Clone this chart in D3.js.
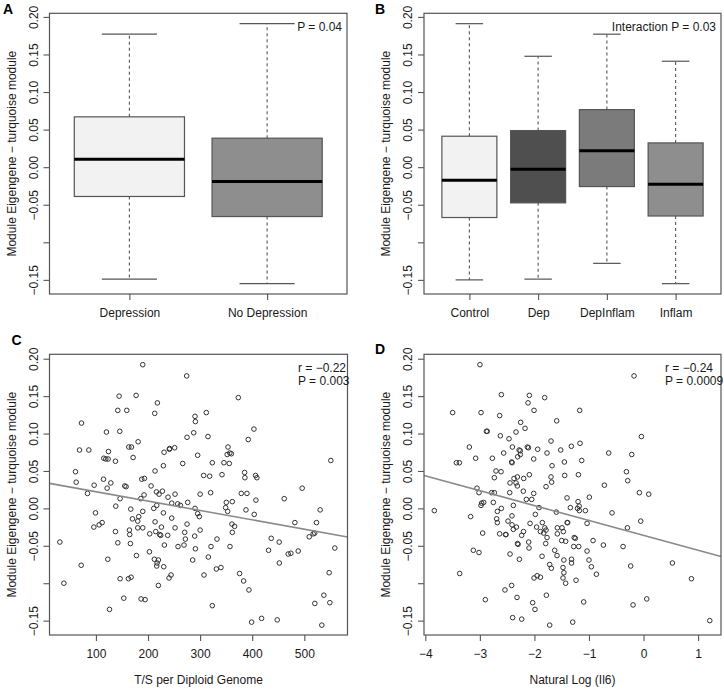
<!DOCTYPE html>
<html><head><meta charset="utf-8">
<script src="https://cdn.jsdelivr.net/npm/d3@7"></script>
<style>
body{margin:0;background:#fff}
svg{display:block}
text{font-family:"Liberation Sans",Arial,Helvetica,sans-serif}
</style>
</head><body>
<svg id="chart" width="724" height="691"></svg>
<script>
// ---------------- DATA ----------------
const yTickValues = [0.20, 0.15, 0.10, 0.05, 0.00, -0.05, -0.10, -0.15];
const yTickLabels = ["0.20", "0.15", "0.10", "0.05", "0.00", "\u22120.05", "", "\u22120.15"];
const yAxisTitle = "Module Eigengene \u2212 turquoise module";

// Panel A boxplot
const groupsA = ["Depression", "No Depression"];
const lowA  = [-0.149, -0.155];
const q1A   = [-0.039, -0.0657];
const medA  = [0.0106, -0.019];
const q3A   = [0.067, 0.0386];
const highA = [0.177, 0.191];
const noteA = ["P = 0.04"];

// Panel B boxplot
const groupsB = ["Control", "Dep", "DepInflam", "Inflam"];
const lowB  = [-0.150, -0.149, -0.128, -0.155];
const q1B   = [-0.067, -0.0475, -0.0258, -0.065];
const medB  = [-0.0173, -0.0027, 0.0217, -0.0226];
const q3B   = [0.0412, 0.0487, 0.0766, 0.0323];
const highB = [0.191, 0.1476, 0.177, 0.141];
const noteB = ["Interaction P = 0.03"];

// Panel C scatter: [T/S per diploid genome, eigengene]
const pointsC = [
[144.5,0.150],[177.1,0.151],[218,0.141],[142,0.131],[159.2,0.131],[212.9,0.127],[290.2,0.123],[290.9,0.116],
[72.3,0.114],[120.2,0.102],[145.8,0.103],[287.7,0.101],[274.9,0.095],[181,0.089],[68.5,0.078],[86.4,0.078],
[124.1,0.076],[163.1,0.082],[168.2,0.082],[230.8,0.075],[241,0.079],[241.5,0.080],[251.2,0.081],[115.1,0.067],
[119,0.066],[123.4,0.066],[137.5,0.063],[171.4,0.068],[295.3,0.071],[266.6,0.060],[60.8,0.049],[213.5,0.050],
[229.5,0.057],[62.1,0.035],[96.6,0.031],[114.5,0.039],[128.6,0.034],[121.5,0.027],[155.4,0.030],[157.9,0.029],
[188,0.039],[193.1,0.040],[205.9,0.030],[146.4,0.013],[83.8,0.020],[216.1,0.022],[221.2,0.019],[227.6,0.023],
[238.4,0.015],[251.9,0.019],[186.1,0.013],[192.4,0.018],[138.1,0.003],[166.9,-0.001],[189.9,-0.004],[182.2,-0.011],
[170.1,-0.014],[180.3,-0.017],[216.7,0.004],[229.5,-0.006],[245.5,0.007],[257,0.006],[262.1,0.004],[276.2,0.008],
[290.2,0.000],[295.3,-0.007],[298.5,-0.011],[211,0.000],[245.5,-0.013],[251.9,-0.026],[99.2,-0.006],[96,-0.025],
[106.2,-0.022],[111.9,-0.019],[137.5,-0.031],[164.3,-0.029],[164.9,-0.035],[180.3,-0.026],[189.9,-0.026],[203.3,-0.034],
[213.5,-0.018],[214.8,-0.031],[222.5,-0.035],[224.4,-0.036],[225.7,-0.025],[237.8,-0.036],[274.9,-0.021],[270.4,-0.032],
[271.7,-0.041],[289.6,-0.037],[231.4,-0.049],[257.6,-0.051],[269.1,-0.049],[290.9,-0.054],[30.8,-0.045],[142,-0.046],
[166.2,-0.047],[202.7,-0.058],[177.8,-0.063],[212.2,-0.068],[219.9,-0.069],[217.4,-0.073],[216.7,-0.077],[230.2,-0.078],
[285.7,-0.069],[71.7,-0.076],[122.8,-0.068],[146.4,-0.094],[162.4,-0.094],[167.5,-0.092],[240.4,-0.093],[244.2,-0.089],
[38.5,-0.100],[219.9,-0.103],[153.5,-0.120],[186.7,-0.121],[194.4,-0.122],
[373.3,0.148],[311.9,0.128],[315.1,0.096],[403.3,0.106],[392.4,0.092],[353.5,0.082],[352,0.072],[357,0.074],
[360,0.073],[323.4,0.061],[345.8,0.061],[356,0.060],[306.8,0.044],[318.3,0.043],[342,0.045],[385.4,0.048],
[386,0.041],[406.5,0.044],[409,0.041],[550.9,0.064],[320.2,0.021],[379,0.020],[389.9,0.020],[407.1,0.011],
[495.9,0.027],[461.4,0.013],[350.3,0.008],[361.8,0.009],[349,0.001],[352.8,-0.004],[388,-0.002],[403.9,-0.008],
[530.4,-0.002],[361.1,-0.021],[366.2,-0.024],[361.8,-0.032],[481.9,-0.019],[523.4,-0.019],[517,-0.034],[520,-0.033],
[509.4,-0.038],[436.5,-0.040],[451.8,-0.045],[332.4,-0.041],[320.9,-0.051],[357.3,-0.051],[315.8,-0.065],[431.4,-0.056],
[469.1,-0.061],[474.2,-0.060],[488.3,-0.057],[558.6,-0.053],[331.1,-0.081],[340,-0.079],[307.5,-0.089],[375.8,-0.087],
[383.5,-0.097],[393.7,-0.109],[547.7,-0.086],[537.5,-0.116],[300,0.019],[300,-0.029],[452,-0.073],
[189.9,0.192],[274.2,0.177],[126,-0.135],[323.4,-0.130],[398.9,-0.152],[418,-0.147],[448,-0.149],[520.2,-0.127],
[549,-0.126],[533.6,-0.156]
];
const fitC = [0.0348, -0.0001253];       // intercept, slope
const noteC = ["r = \u22120.22", "P = 0.003"];
const xTicksC = [100, 200, 300, 400, 500];
const xTitleC = "T/S per Diploid Genome";

// Panel D scatter: [ln(Il6), eigengene]
const pointsD = [
[-2.998,0.192],[-0.174,0.177],[-2.606,0.152],[-2.093,0.151],[-1.812,0.148],[-2.117,0.141],[-1.170,0.131],[-2.007,0.131],
[-3.499,0.128],[-2.979,0.128],[-2.637,0.124],[-1.592,0.117],[-2.252,0.115],[-2.172,0.107],[-2.88,0.103],[-2.865,0.103],
[-2.337,0.102],[-2.625,0.097],[-0.039,0.096],[-2.466,0.093],[-1.696,0.090],[-3.193,0.082],[-2.404,0.082],[-2.28,0.078],
[-2.26,0.077],[-2.13,0.082],[-2.11,0.081],[-1.940,0.079],[-1.323,0.083],[-1.164,0.087],[-1.518,0.078],[-1.769,0.074],
[-0.638,0.074],[-0.216,0.072],[-2.563,0.074],[-2.258,0.072],[-2.307,0.069],[-3.077,0.067],[-2.771,0.067],[-2.013,0.066],
[-1.133,0.064],[-3.43,0.061],[-3.376,0.061],[-2.417,0.062],[-2.41,0.061],[-1.677,0.057],[-1.451,0.062],[-2.704,0.050],
[-2.612,0.049],[-0.314,0.049],[-2.093,0.045],[-1.445,0.044],[-1.194,0.045],[-2.735,0.041],[-2.374,0.040],[-2.313,0.042],
[-2.197,0.040],[-1.696,0.042],[-1.684,0.035],[-0.29,0.037],[-2.447,0.034],[-2.337,0.034],[-2.313,0.030],[-3.053,0.027],
[-0.718,0.031],[-1.787,0.029],[-3.016,0.021],[-2.784,0.021],[-2.735,0.021],[-2.453,0.021],[-2.203,0.023],[-2.013,0.020],
[-0.076,0.021],[0.095,0.019],[-1.402,0.014],[-0.993,0.015],[-2.148,0.012],[-2.05,0.012],[-2.967,0.007],[-2.93,0.008],
[-2.753,0.008],[-2.386,0.004],[-1.916,0.001],[-1.341,0.001],[-1.2,0.009],[-1.18,0.003],[-1.21,-0.000],[-1.176,-0.003],
[-1.066,-0.003],[-1.598,-0.005],[-0.577,-0.006],[-2.979,0.004],[-2.68,-0.004],[-2.606,-0.000],[-3.835,-0.003],[-3.169,-0.011],
[-2.692,-0.014],[-2.484,-0.017],[-2.68,-0.019],[-2.411,-0.010],[-1.983,-0.008],[-1.855,-0.019],[-1.40,-0.019],[-1.39,-0.019],
[-1.035,-0.020],[-0.051,-0.017],[-2.41,-0.022],[-2.33,-0.025],[-1.96,-0.025],[-0.296,-0.026],[-1.81,-0.026],[-1.58,-0.026],
[-1.494,-0.026],[-2.386,-0.028],[-2.2,-0.031],[-1.89,-0.031],[-1.787,-0.029],[-2.949,-0.033],[-2.637,-0.034],[-2.53,-0.035],
[-2.52,-0.035],[-1.83,-0.033],[-1.58,-0.034],[-1.47,-0.031],[-2.234,-0.036],[-1.769,-0.039],[-2.31,-0.047],[-2.30,-0.048],
[-2.105,-0.045],[-1.5,-0.043],[-1.27,-0.039],[-1.25,-0.040],[-1.427,-0.044],[-0.925,-0.043],[-0.736,-0.049],[-2.099,-0.053],
[-1.793,-0.047],[-1.28,-0.051],[-1.188,-0.051],[-0.375,-0.051],[-3.12,-0.056],[-3.016,-0.059],[-1.628,-0.056],[-1.586,-0.063],
[-1.035,-0.057],[-2.447,-0.061],[-2.276,-0.068],[-1.86,-0.064],[-1.46,-0.069],[-1.32,-0.068],[-1.32,-0.073],[-1.0,-0.069],
[-1.72,-0.075],[-1.69,-0.080],[-1.476,-0.079],[-0.956,-0.078],[-0.235,-0.077],[0.529,-0.073],[-3.37,-0.087],[-2.007,-0.093],
[-1.95,-0.090],[-1.89,-0.092],[-1.476,-0.093],[-1.46,-0.086],[-0.864,-0.088],[-1.427,-0.100],[-1.237,-0.096],[0.878,-0.094],
[-2.54,-0.109],[-2.417,-0.103],[-1.781,-0.116],[-2.9,-0.122],[-2.319,-0.119],[-2.032,-0.126],[-1.99,-0.135],[-1.097,-0.125],
[-0.192,-0.129],[0.059,-0.121],[-2.399,-0.146],[-2.233,-0.148],[-1.298,-0.152],[-1.72,-0.156],[1.214,-0.150],[-2.08,-0.020]
];
const fitD = [-0.0361, -0.01992];        // intercept, slope
const noteD = ["r = \u22120.24", "P = 0.0009"];
const xTicksD = [-4, -3, -2, -1, 0, 1];
const xTitleD = "Natural Log (Il6)";

// ---------------- STYLE ----------------
const axisColor = "#555";
const textColor = "#1a1a1a";
const fillsA = ["#f2f2f2", "#8e8e8e"];
const fillsB = ["#f2f2f2", "#4f4f4f", "#7b7b7b", "#8e8e8e"];
const FS = 12;

const svg = d3.select("#chart");

function fmtMinus(d) { return d < 0 ? "\u2212" + (-d) : String(d); }

function drawFrame(g, x0, x1, y0, y1) {
  g.append("rect").attr("x", x0).attr("y", y0).attr("width", x1 - x0).attr("height", y1 - y0)
    .attr("fill", "none").attr("stroke", axisColor).attr("stroke-width", 1.2);
}

function drawYAxis(g, y, x0, yMid, titleX) {
  const ax = d3.axisLeft(y).tickValues(yTickValues).tickSize(6)
    .tickFormat(d => yTickLabels[yTickValues.indexOf(d)]);
  const a = g.append("g").attr("transform", `translate(${x0},0)`).call(ax)
    .attr("font-size", FS).attr("font-family", null);
  a.select(".domain").remove();
  a.selectAll(".tick line").attr("stroke", axisColor).attr("stroke-width", 1.1);
  a.selectAll(".tick text").attr("x", null).attr("dy", null).attr("fill", textColor)
    .attr("text-anchor", "middle").attr("transform", "translate(-12,0) rotate(-90)");
  g.append("text").attr("transform", `translate(${titleX},${yMid}) rotate(-90)`)
    .attr("text-anchor", "middle").attr("font-size", FS).attr("fill", textColor).text(yAxisTitle);
}

function drawXAxis(g, x, ticks, fmt, y0) {
  const ax = d3.axisBottom(x).tickValues(ticks).tickSize(6).tickPadding(8).tickFormat(fmt);
  const a = g.append("g").attr("transform", `translate(0,${y0})`).call(ax)
    .attr("font-size", FS).attr("font-family", null);
  a.select(".domain").remove();
  a.selectAll(".tick line").attr("stroke", axisColor).attr("stroke-width", 1.1);
  a.selectAll(".tick text").attr("fill", textColor);
}

function letter(t, x, y) {
  svg.append("text").attr("x", x).attr("y", y).attr("font-size", 14).attr("font-weight", "bold")
    .attr("fill", "#000").text(t);
}

function boxPanel(opts) {
  const g = svg.append("g");
  const n = opts.groups.length;
  const x = d3.scaleLinear().domain([0.5 - 0.04 * n, n + 0.5 + 0.04 * n]).range([opts.x0, opts.x1]);
  const y = d3.scaleLinear().domain([-0.1688, 0.2048]).range([opts.y1, opts.y0]);
  const bw = x(1.4) - x(1);
  const idx = d3.range(n);
  // whiskers
  g.selectAll(".wu").data(idx).join("line")
    .attr("x1", i => x(i + 1)).attr("x2", i => x(i + 1))
    .attr("y1", i => y(opts.q3[i])).attr("y2", i => y(opts.high[i]))
    .attr("stroke", axisColor).attr("stroke-dasharray", "3,3").attr("stroke-width", 1.1);
  g.selectAll(".wl").data(idx).join("line")
    .attr("x1", i => x(i + 1)).attr("x2", i => x(i + 1))
    .attr("y1", i => y(opts.q1[i])).attr("y2", i => y(opts.low[i]))
    .attr("stroke", axisColor).attr("stroke-dasharray", "3,3").attr("stroke-width", 1.1);
  // caps
  [opts.high, opts.low].forEach(arr => {
    g.selectAll(null).data(idx).join("line")
      .attr("x1", i => x(i + 1) - bw / 2).attr("x2", i => x(i + 1) + bw / 2)
      .attr("y1", i => y(arr[i])).attr("y2", i => y(arr[i]))
      .attr("stroke", axisColor).attr("stroke-width", 1.2);
  });
  // boxes
  g.selectAll(".box").data(idx).join("rect")
    .attr("x", i => x(i + 1) - bw).attr("width", 2 * bw)
    .attr("y", i => y(opts.q3[i])).attr("height", i => y(opts.q1[i]) - y(opts.q3[i]))
    .attr("fill", i => opts.fills[i]).attr("stroke", axisColor).attr("stroke-width", 1.2);
  // medians
  g.selectAll(".med").data(idx).join("line")
    .attr("x1", i => x(i + 1) - bw).attr("x2", i => x(i + 1) + bw)
    .attr("y1", i => y(opts.med[i])).attr("y2", i => y(opts.med[i]))
    .attr("stroke", "#000").attr("stroke-width", 3);
  drawFrame(g, opts.x0, opts.x1, opts.y0, opts.y1);
  drawYAxis(g, y, opts.x0, (opts.y0 + opts.y1) / 2, opts.titleX);
  drawXAxis(g, x, idx.map(i => i + 1), d => opts.groups[d - 1], opts.y1);
  g.append("text").attr("x", opts.noteX).attr("y", opts.y0 + 18).attr("text-anchor", "end")
    .attr("font-size", FS).attr("fill", textColor).text(opts.note[0]);
}

function scatterPanel(opts) {
  const g = svg.append("g");
  const x = d3.scaleLinear().domain(opts.xDomain).range([opts.x0, opts.x1]);
  const y = d3.scaleLinear().domain([-0.1692, 0.2059]).range([opts.y1, opts.y0]);
  g.selectAll("circle").data(opts.points).join("circle")
    .attr("cx", d => x(d[0])).attr("cy", d => y(d[1])).attr("r", 2.3)
    .attr("fill", "none").attr("stroke", "#333").attr("stroke-width", 1);
  const [xa, xb] = opts.xDomain;
  g.append("line").attr("x1", x(xa)).attr("x2", x(xb))
    .attr("y1", y(opts.fit[0] + opts.fit[1] * xa)).attr("y2", y(opts.fit[0] + opts.fit[1] * xb))
    .attr("stroke", "#8a8a8a").attr("stroke-width", 1.6);
  drawFrame(g, opts.x0, opts.x1, opts.y0, opts.y1);
  drawYAxis(g, y, opts.x0, (opts.y0 + opts.y1) / 2, opts.titleX);
  drawXAxis(g, x, opts.xTicks, fmtMinus, opts.y1);
  g.append("text").attr("x", (opts.x0 + opts.x1) / 2).attr("y", 684).attr("text-anchor", "middle")
    .attr("font-size", FS).attr("fill", textColor).text(opts.xTitle);
  g.selectAll(".note").data(opts.note).join("text")
    .attr("x", opts.noteX).attr("y", (d, i) => opts.y0 + 17.5 + i * 13)
    .attr("font-size", FS).attr("fill", textColor).text(d => d);
}

boxPanel({groups: groupsA, low: lowA, q1: q1A, med: medA, q3: q3A, high: highA, fills: fillsA,
  x0: 49.5, x1: 347, y0: 13.3, y1: 294, titleX: 16, note: noteA, noteX: 342});
boxPanel({groups: groupsB, low: lowB, q1: q1B, med: medB, q3: q3B, high: highB, fills: fillsB,
  x0: 424, x1: 721, y0: 13.3, y1: 294, titleX: 390, note: noteB, noteX: 716});
scatterPanel({points: pointsC, fit: fitC, xDomain: [10.9, 582.9], xTicks: xTicksC, xTitle: xTitleC,
  x0: 49.5, x1: 347.5, y0: 354.3, y1: 635, titleX: 16, note: noteC, noteX: 298});
scatterPanel({points: pointsD, fit: fitD, xDomain: [-4.024, 1.42], xTicks: xTicksD, xTitle: xTitleD,
  x0: 424, x1: 721, y0: 354.3, y1: 635, titleX: 390, note: noteD, noteX: 665});

letter("A", 3, 13.5);
letter("B", 375, 13.5);
letter("C", 11.5, 345);
letter("D", 375, 353.5);
</script>
</body></html>
